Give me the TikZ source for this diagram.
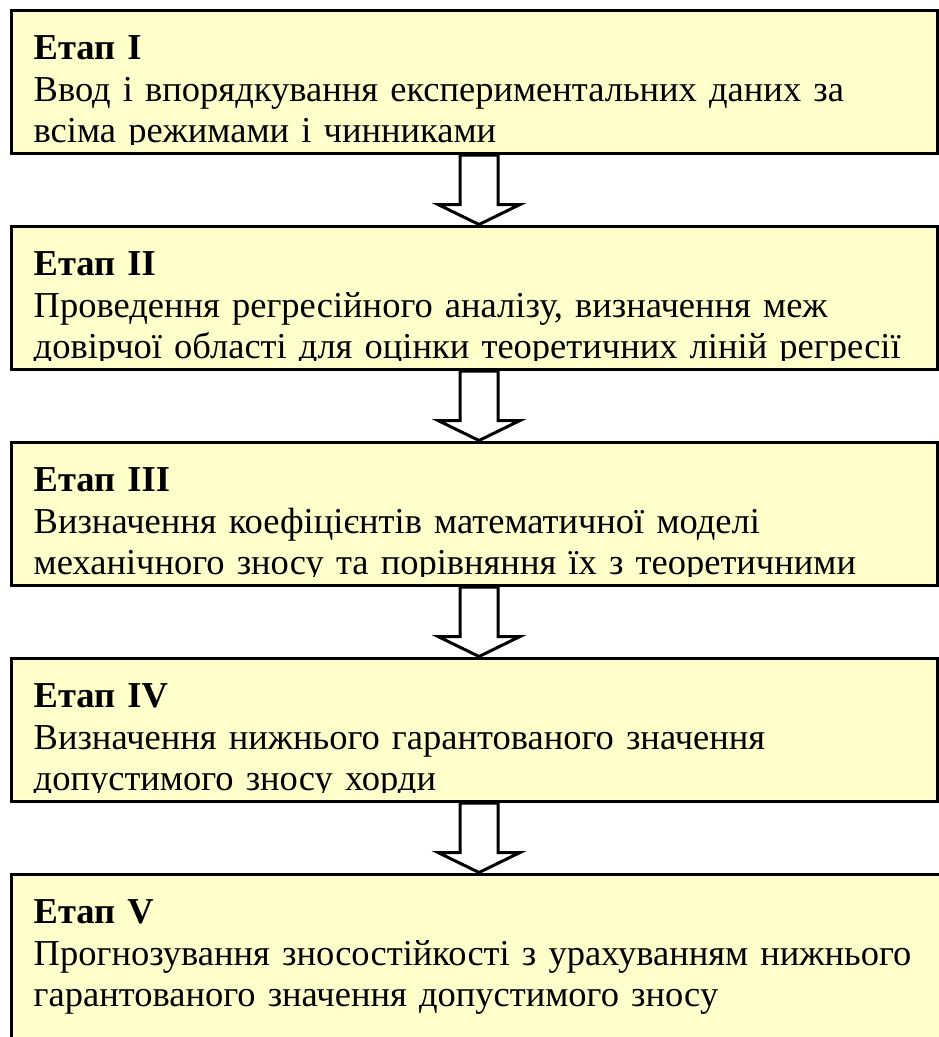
\documentclass[tikz,border=0pt]{standalone}
\usepackage{fontspec}
\setmainfont{Liberation Serif}
\usetikzlibrary{positioning,calc}
\definecolor{stagefill}{HTML}{FFFFCC}

\tikzset{
  stagebox/.style={draw, line width=3pt, fill=stagefill, rectangle,
    minimum width=926pt, minimum height=143.5pt, inner sep=0pt},
  stagetext/.style={anchor=north west, inner sep=0pt, align=left,
    text width=910pt, font=\fontsize{36.5}{41.5}\selectfont},
  stagearrow/.style={draw, line width=3pt, fill=white, line join=miter},
}
\newcommand{\stagehead}[1]{{\bfseries Етап #1}}

\begin{document}
\begin{tikzpicture}
\clip (0,0) rectangle (939pt,-1037pt);

% stage boxes, the last one runs off the page
\node[stagebox, anchor=north west] (s1) at (9.5pt,-8.5pt) {};
\node[stagebox, below=69.5pt of s1] (s2) {};
\node[stagebox, below=69.5pt of s2] (s3) {};
\node[stagebox, below=69.5pt of s3] (s4) {};
\node[stagebox, minimum width=980pt, minimum height=220pt,
  below=69.5pt of s4.south west, anchor=north west] (s5) {};

% texts, cut at the lower edge of each box
\foreach \i/\txt in {
  1/{\stagehead{I}\\Ввод і впорядкування експериментальних даних за\\всіма режимами і чинниками},
  2/{\stagehead{II}\\Проведення регресійного аналізу, визначення меж\\довірчої області для оцінки теоретичних ліній регресії},
  3/{\stagehead{III}\\Визначення коефіцієнтів математичної моделі\\механічного зносу та порівняння їх з теоретичними},
  4/{\stagehead{IV}\\Визначення нижнього гарантованого значення\\допустимого зносу хорди},
  5/{\stagehead{V}\\Прогнозування зносостійкості з урахуванням нижнього\\гарантованого значення допустимого зносу}}
{
  \begin{scope}
    \clip ($(s\i.north west)+(3pt,-3pt)$) rectangle ($(s\i.south east)+(-3pt,11pt)$);
    \node[stagetext] (t\i) at ($(s\i.north west)+(24pt,-27pt)$) {\txt};
  \end{scope}
}

% hollow arrows between the stages
\foreach \a/\b in {s1/s2, s2/s3, s3/s4, s4/s5}
  \draw[stagearrow] let \p1 = ($(\a.south)+(5pt,0)$), \p2 = (\b.north) in
    (\x1-19pt,\y1) -- (\x1+19pt,\y1) -- (\x1+19pt,\y2+20pt) -- (\x1+41pt,\y2+20pt)
    -- (\x1,\y2) -- (\x1-41pt,\y2+20pt) -- (\x1-19pt,\y2+20pt) -- cycle;
\end{tikzpicture}
\end{document}
